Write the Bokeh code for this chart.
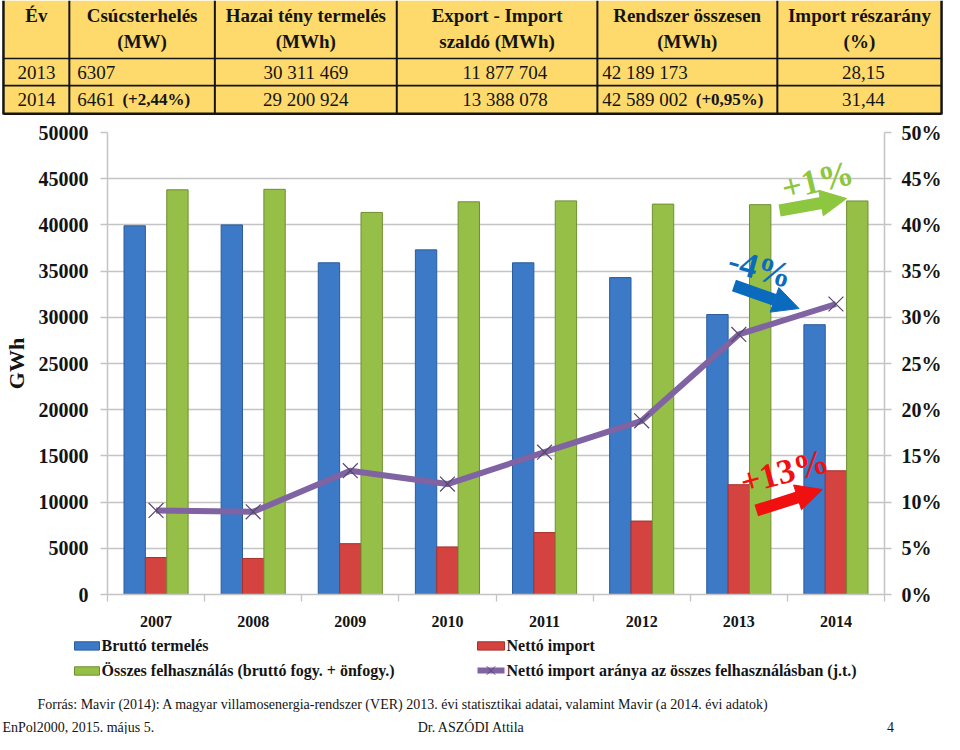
from bokeh.plotting import figure
from bokeh.models import (Range1d, LinearAxis, FixedTicker, PrintfTickFormatter,
                          BasicTickFormatter, Label, Arrow, NormalHead, ColumnDataSource)
from bokeh.layouts import column
from bokeh.transform import dodge
from bokeh.embed import file_html
from bokeh.resources import INLINE
from bokeh.core.properties import value

SERIF = "Liberation Serif"

# ---------------- data ----------------
years = [2007, 2008, 2009, 2010, 2011, 2012, 2013, 2014]
brutto_termeles = [39900, 40000, 35900, 37300, 35900, 34300, 30300, 29200]
netto_import = [4000, 3900, 5500, 5150, 6700, 7950, 11880, 13390]
osszes_felhasznalas = [43800, 43850, 41350, 42500, 42600, 42250, 42190, 42590]
import_arany = [9.1, 8.95, 13.4, 11.95, 15.4, 18.8, 28.15, 31.44]

y_ticks = list(range(0, 50001, 5000))
pct_ticks = list(range(0, 51, 5))

table_header_l1 = ["Év", "Csúcsterhelés", "Hazai tény termelés", "Export - Import",
                   "Rendszer összesen", "Import részarány"]
table_header_l2 = ["", "(MW)", "(MWh)", "szaldó (MWh)", "(MWh)", "(%)"]
table_years = ["2013", "2014"]
table_csucs = ["6307", "6461"]
table_csucs_valt = ["", "(+2,44%)"]
table_hazai = ["30 311 469", "29 200 924"]
table_szaldo = ["11 877 704", "13 388 078"]
table_rendszer = ["42 189 173", "42 589 002"]
table_rendszer_valt = ["", "(+0,95%)"]
table_arany = ["28,15", "31,44"]

legend_labels = ["Bruttó termelés", "Nettó import",
                 "Összes felhasználás (bruttó fogy. + önfogy.)",
                 "Nettó import aránya az összes felhasználásban (j.t.)"]
source_text = ("Forrás: Mavir (2014): A magyar villamosenergia-rendszer (VER) 2013. évi "
               "statisztikai adatai, valamint Mavir (a 2014. évi adatok)")
footer_left = "EnPol2000, 2015. május 5."
footer_mid = "Dr. ASZÓDI Attila"
footer_right = "4"

ann_green = "+1%"
ann_blue = "-4%"
ann_red = "+13%"

# ---------------- styles ----------------
BLUE = "#3C79C6"
BLUE_L = "#2B5D9C"
RED = "#D4433F"
RED_L = "#A8302C"
GREEN = "#96BF48"
GREEN_L = "#6F8F30"
PURPLE = "#7F63A3"
GRID = "#C4C4C4"
YELLOW = "#FDDA6B"
INK = "#141414"
W = 944

# ---------------- table figure ----------------
tab = figure(width=W, height=115, x_range=Range1d(0, 960), y_range=Range1d(123, 0),
             output_backend="svg", toolbar_location=None, min_border=0,
             x_axis_location=None, y_axis_location=None, outline_line_color=None,
             frame_align=False)
tab.grid.visible = False
edges = [3, 70, 218, 403, 607, 790, 957]
centers = [(a + b) / 2 for a, b in zip(edges[:-1], edges[1:])]
tab.quad(left=edges[0], right=edges[-1], top=0, bottom=122, fill_color=YELLOW, line_color=None)
tab.segment(x0=edges[1:-1], y0=0, x1=edges[1:-1], y1=122, line_color=INK, line_width=2)
tab.segment(x0=[edges[0], edges[-1]], y0=0, x1=[edges[0], edges[-1]], y1=122, line_color=INK, line_width=2.5)
tab.segment(x0=edges[0], y0=[62, 91], x1=edges[-1], y1=[62, 91], line_color=INK, line_width=1.6)
tab.segment(x0=edges[0], y0=121.5, x1=edges[-1], y1=121.5, line_color=INK, line_width=3)

hdr_kw = dict(text_font=value(SERIF), text_font_style="bold", text_font_size="19px",
              text_color=INK, text_align="center", text_baseline="middle")
tab.text(x=centers, y=[16] * 6, text=table_header_l1, **hdr_kw)
tab.text(x=centers, y=[44] * 6, text=table_header_l2, **hdr_kw)

row_y = [77, 106]
cell_kw = dict(text_font=value(SERIF), text_font_size="19px", text_color=INK, text_baseline="middle")
tab.text(x=[centers[0]] * 2, y=row_y, text=table_years, text_align="center", **cell_kw)
tab.text(x=[78] * 2, y=row_y, text=table_csucs, text_align="left", **cell_kw)
tab.text(x=[124] * 2, y=row_y, text=table_csucs_valt, text_align="left", text_font=value(SERIF),
         text_font_style="bold", text_font_size="17px", text_color=INK, text_baseline="middle")
tab.text(x=[centers[2]] * 2, y=row_y, text=table_hazai, text_align="center", **cell_kw)
tab.text(x=[centers[3] + 8] * 2, y=row_y, text=table_szaldo, text_align="center", **cell_kw)
tab.text(x=[612] * 2, y=row_y, text=table_rendszer, text_align="left", **cell_kw)
tab.text(x=[707] * 2, y=row_y, text=table_rendszer_valt, text_align="left", text_font=value(SERIF),
         text_font_style="bold", text_font_size="17px", text_color=INK, text_baseline="middle")
tab.text(x=[centers[5] + 4] * 2, y=row_y, text=table_arany, text_align="center", **cell_kw)

# ---------------- chart figure ----------------
ch = figure(width=W, height=517, x_range=Range1d(2006.5, 2014.5), y_range=Range1d(0, 50000),
            output_backend="svg", toolbar_location=None,
            min_border_left=107, min_border_right=59, min_border_top=17, min_border_bottom=38,
            outline_line_color=None, frame_align=False)
ch.extra_y_ranges = {"pct": Range1d(0, 50)}

src = ColumnDataSource(dict(year=years, brutto=brutto_termeles, netto=netto_import,
                            osszes=osszes_felhasznalas, arany=import_arany))
bw = 0.22
ch.vbar(x=dodge("year", -bw, range=ch.x_range), top="brutto", width=bw, source=src,
        fill_color=BLUE, line_color=BLUE_L, line_width=1)
ch.vbar(x=dodge("year", 0, range=ch.x_range), top="netto", width=bw, source=src,
        fill_color=RED, line_color=RED_L, line_width=1)
ch.vbar(x=dodge("year", bw, range=ch.x_range), top="osszes", width=bw, source=src,
        fill_color=GREEN, line_color=GREEN_L, line_width=1)
ch.line(x="year", y="arany", source=src, y_range_name="pct", line_color=PURPLE, line_width=6)
ch.scatter(x="year", y="arany", source=src, y_range_name="pct", marker="x", size=21,
           line_color="#55476A", line_width=1.2)

ch.ygrid.ticker = FixedTicker(ticks=y_ticks)
ch.ygrid.grid_line_color = GRID
ch.ygrid.grid_line_width = 1.3
ch.xgrid.visible = False

yl = ch.yaxis[0]
yl.ticker = FixedTicker(ticks=y_ticks)
yl.formatter = BasicTickFormatter(use_scientific=False)
yl.axis_label = "GWh"
yl.axis_label_text_font = SERIF
yl.axis_label_text_font_style = "bold"
yl.axis_label_text_font_size = "22px"
yl.axis_label_text_color = INK
yl.axis_label_standoff = 7
yl.major_label_standoff = 12

ax_r = LinearAxis(y_range_name="pct", ticker=FixedTicker(ticks=pct_ticks),
                  formatter=PrintfTickFormatter(format="%d%%"))
ch.add_layout(ax_r, "right")
ax_r.major_label_standoff = 10

for ax in (yl, ax_r):
    ax.major_label_text_font = SERIF
    ax.major_label_text_font_style = "bold"
    ax.major_label_text_font_size = "20px"
    ax.major_label_text_color = INK
    ax.axis_line_color = GRID
    ax.axis_line_width = 1.5
    ax.major_tick_line_color = GRID
    ax.major_tick_line_width = 1.3
    ax.major_tick_in = 0
    ax.major_tick_out = 7
    ax.minor_tick_line_color = None

xa = ch.xaxis[0]
xa.ticker = FixedTicker(ticks=years, minor_ticks=[y - 0.5 for y in years] + [years[-1] + 0.5])
xa.formatter = BasicTickFormatter(use_scientific=False)
xa.major_label_text_font = SERIF
xa.major_label_text_font_style = "bold"
xa.major_label_text_font_size = "16px"
xa.major_label_text_color = INK
xa.major_label_standoff = 14
xa.axis_line_color = GRID
xa.axis_line_width = 1.5
xa.major_tick_line_color = None
xa.minor_tick_line_color = GRID
xa.minor_tick_line_width = 1.3
xa.minor_tick_in = 0
xa.minor_tick_out = 7

# annotations (change markers)
def add_note(text, color, x, y, angle, x0, y0, x1, y1):
    ch.add_layout(Arrow(end=NormalHead(size=26, fill_color=color, line_color=color),
                        x_start=x0, y_start=y0, x_end=x1, y_end=y1,
                        line_color=color, line_width=12))
    ch.add_layout(Label(x=x, y=y, text=text, angle=angle, text_color=color,
                        text_font=SERIF, text_font_style="bold", text_font_size="35px",
                        text_align="center", text_baseline="middle"))

add_note(ann_green, "#8DC63F", 2013.81, 44800, 0.24, 2013.42, 41560, 2014.11, 42860)
add_note(ann_blue, "#0A6BBE", 2013.22, 35300, -0.27, 2012.95, 33440, 2013.62, 30950)
add_note(ann_red, "#F01010", 2013.47, 13300, 0.26, 2013.18, 9090, 2013.86, 11360)

# ---------------- legend + footer figure ----------------
lg = figure(width=W, height=102, x_range=Range1d(8, 952), y_range=Range1d(750, 640),
            output_backend="svg", toolbar_location=None, min_border=0,
            x_axis_location=None, y_axis_location=None, outline_line_color=None,
            frame_align=False)
lg.grid.visible = False
lg.quad(left=[82, 485, 82], right=[107, 512, 107], top=[650, 650, 677], bottom=[659, 659, 686],
        fill_color=[BLUE, RED, GREEN], line_color=[BLUE_L, RED_L, GREEN_L], line_width=1)
lg.line(x=[485, 512], y=[681, 681], line_color=PURPLE, line_width=6)
lg.scatter(x=[498.5], y=[681], marker="x", size=12, line_color="#55476A", line_width=1)
lg.text(x=[109, 514, 109, 514], y=[654, 654, 681, 681], text=legend_labels,
        text_font=value(SERIF), text_font_style="bold", text_font_size="16px",
        text_color=INK, text_align="left", text_baseline="middle")
ft_kw = dict(text_font=value(SERIF), text_font_size="14px", text_color=INK, text_baseline="middle")
lg.text(x=[45], y=[718], text=[source_text], text_align="left", **ft_kw)
lg.text(x=[10], y=[742], text=[footer_left], text_align="left", **ft_kw)
lg.text(x=[479], y=[742], text=[footer_mid], text_align="center", **ft_kw)
lg.text(x=[898], y=[742], text=[footer_right], text_align="center", **ft_kw)

layout = column(tab, ch, lg)
open("out.html", "w").write(file_html(layout, INLINE))
